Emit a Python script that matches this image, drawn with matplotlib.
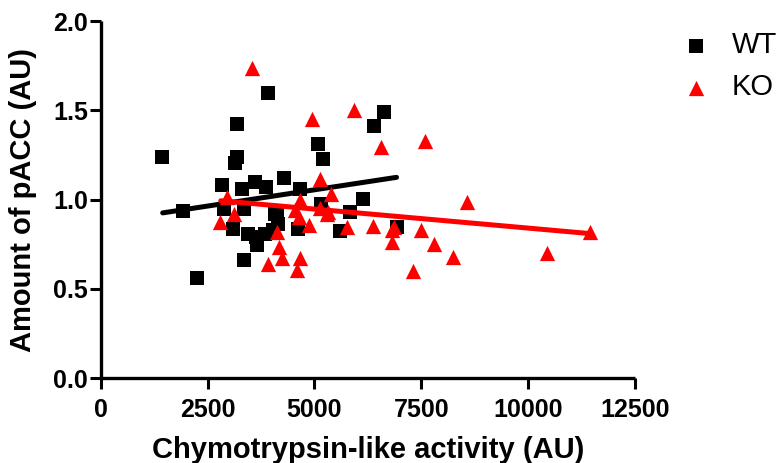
import numpy as np
import matplotlib
matplotlib.use("Agg")
import matplotlib.pyplot as plt

# Datos
wt_x = [1443, 1932, 2258, 2828, 2886, 3096, 3131, 3177, 3189, 3306, 3364, 3364,
        3445, 3620, 3643, 3666, 3876, 3853, 3922, 4027, 4085, 4283, 4667, 4609,
        5086, 5191, 5156, 5587, 5843, 6145, 6390, 6622, 6937, 4120, 4150]
wt_y = [1.240, 0.937, 0.563, 1.081, 0.950, 0.838, 1.207, 1.240, 1.424, 1.059, 0.950, 0.660,
        0.810, 1.100, 0.791, 0.745, 1.072, 0.810, 1.596, 0.829, 0.922, 1.119, 1.062, 0.838,
        1.311, 1.227, 0.978, 0.825, 0.932, 1.003, 1.412, 1.493, 0.847, 0.920, 0.864]

ko_x = [3532, 4946, 5924, 6564, 7577, 5133, 2956, 2793, 3120, 4667, 4551, 4644,
        4865, 5133, 5307, 5389, 5284, 4120, 4166, 4236, 3922, 4667, 4586, 5773,
        6378, 6820, 6820, 6855, 7495, 7809, 8240, 7309, 8566, 10452, 11452]
ko_y = [1.736, 1.452, 1.502, 1.296, 1.330, 1.113, 1.016, 0.875, 0.917, 0.997, 0.941, 0.903,
        0.860, 0.954, 0.932, 1.029, 0.922, 0.819, 0.735, 0.675, 0.642, 0.673, 0.604, 0.847,
        0.853, 0.763, 0.832, 0.847, 0.832, 0.750, 0.679, 0.600, 0.988, 0.701, 0.819]

# Rectas de regresion (extremos)
wt_fit_x = [1450, 6921]
wt_fit_y = [0.926, 1.125]
ko_fit_x = [2809, 11452]
ko_fit_y = [0.994, 0.810]

plt.rcParams['font.family'] = ['Liberation Sans', 'DejaVu Sans']

fig = plt.figure(figsize=(7.79, 4.63), dpi=100)
ax = fig.add_axes([0.1293, 0.1829, 0.6858, 0.7717])

ax.scatter(wt_x, wt_y, marker='s', s=9.5**2, color='black', linewidths=0, label='WT', zorder=3)
ax.plot(wt_fit_x, wt_fit_y, color='black', lw=3.6, solid_capstyle='round', zorder=4)
ax.scatter(ko_x, ko_y, marker='^', s=11**2, color='red', linewidths=0, label='KO', zorder=5)
ax.plot(ko_fit_x, ko_fit_y, color='red', lw=3.6, solid_capstyle='round', zorder=6)

ax.set_xlim(0, 12500)
ax.set_ylim(0, 2.0)
ax.set_xticks([0, 2500, 5000, 7500, 10000, 12500])
ax.set_yticks([0.0, 0.5, 1.0, 1.5, 2.0])
ax.set_yticklabels(['0.0', '0.5', '1.0', '1.5', '2.0'])

for s in ['top', 'right']:
    ax.spines[s].set_visible(False)
for s in ['left', 'bottom']:
    ax.spines[s].set_linewidth(2.4)
    ax.spines[s].set_capstyle('butt')

ax.tick_params(axis='both', length=8, width=2.2, labelsize=18)
ax.tick_params(axis='x', pad=6)
ax.tick_params(axis='y', pad=1)
for lbl in ax.get_xticklabels() + ax.get_yticklabels():
    lbl.set_fontweight('bold')

ax.set_xlabel('Chymotrypsin-like activity (AU)', fontsize=21, fontweight='bold', labelpad=10)
ax.set_ylabel('Amount of pACC (AU)', fontsize=21, fontweight='bold', labelpad=12)

ax.legend(loc='upper left', bbox_to_anchor=(0.876, 0.932), bbox_transform=fig.transFigure,
          frameon=False, fontsize=21, scatterpoints=1, handlelength=0.95,
          handletextpad=0.75, borderpad=0, borderaxespad=0, labelspacing=0.48)

fig.savefig('out.png', dpi=100)
